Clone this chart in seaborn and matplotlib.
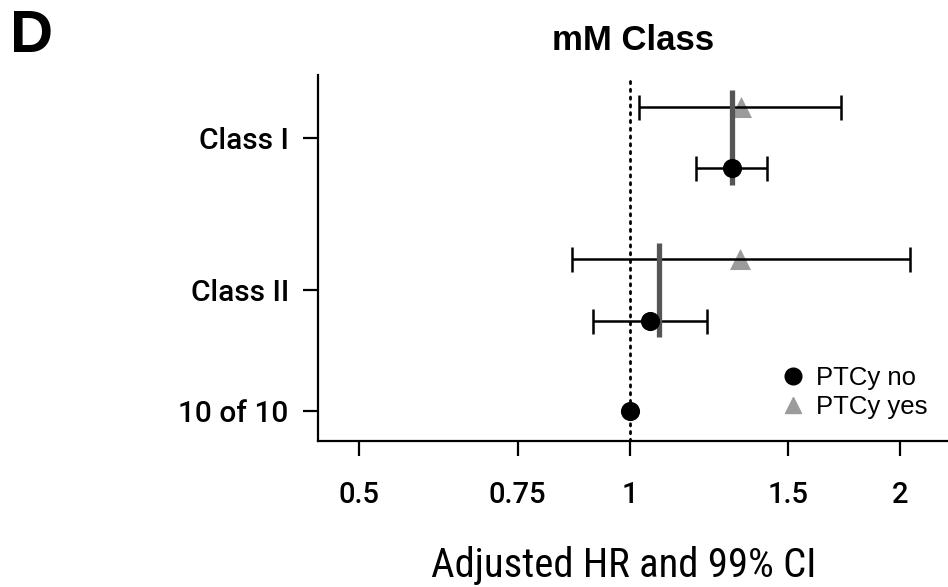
import numpy as np
import pandas as pd
import matplotlib
matplotlib.use('Agg')
import matplotlib.pyplot as plt
import seaborn as sns
from matplotlib import font_manager
from matplotlib.font_manager import FontProperties
from matplotlib.ticker import FixedLocator, FixedFormatter, NullLocator
from matplotlib.lines import Line2D

sns.set_theme(style='ticks')
plt.rcParams['font.family'] = ['Liberation Sans', 'DejaVu Sans']
plt.rcParams.update({'text.color': 'black', 'axes.labelcolor': 'black',
                     'xtick.color': 'black', 'ytick.color': 'black'})

# values (HR on log axis)
classes = ['Class I', 'Class II']
hr_no = [1.30, 1.052]
lo_no = [1.184, 0.909]
hi_no = [1.423, 1.219]
hr_yes = [1.33, 1.325]
lo_yes = [1.023, 0.862]
hi_yes = [1.72, 2.05]
hr_overall = [1.298, 1.077]
ref_label = '10 of 10'
ref_hr = 1.0

x_ticks = [0.5, 0.75, 1, 1.5, 2]
x_tick_labels = ['0.5', '0.75', '1', '1.5', '2']

# layout of the rows
class_pos = {'Class I': 3.26, 'Class II': 2.0, ref_label: 1.0}
row_off = 0.255


def as_weight(w):
    if isinstance(w, int):
        return w
    return {'normal': 400, 'regular': 400, 'medium': 500, 'bold': 700}.get(w, 0)


def find_condensed():
    # a narrow sans for the x label, if one is installed
    cands = []
    for f in font_manager.fontManager.ttflist:
        narrow = ('Narrow' in f.name or 'Condensed' in f.name or
                  f.stretch in ('condensed', 'semi-condensed'))
        if narrow and f.style == 'normal' and as_weight(f.weight) == 400:
            rank = 0 if 'Liberation' in f.name else 1 if 'Roboto' in f.name else 2 if 'Noto Sans' in f.name else 3
            if f.stretch == 'semi-condensed':
                rank += 5
            cands.append((rank, f.fname))
    if cands:
        return sorted(cands)[0][1]
    return None


def find_medium():
    # medium weight sans for tick labels, bold as a fallback
    for fam in ['Roboto', 'Inter', 'Open Sans', 'Noto Sans', 'Lato']:
        for f in font_manager.fontManager.ttflist:
            if (f.name == fam and f.style == 'normal' and f.stretch == 'normal'
                    and as_weight(f.weight) in (500, 600)):
                return f.fname
    return None


rows = []
for i, c in enumerate(classes):
    rows.append(dict(group=c, ptcy='yes', hr=hr_yes[i], lo=lo_yes[i], hi=hi_yes[i],
                     ypos=class_pos[c] + row_off))
    rows.append(dict(group=c, ptcy='no', hr=hr_no[i], lo=lo_no[i], hi=hi_no[i],
                     ypos=class_pos[c] - row_off))
rows.append(dict(group=ref_label, ptcy='no', hr=ref_hr, lo=np.nan, hi=np.nan,
                 ypos=class_pos[ref_label]))
df = pd.DataFrame(rows)

fig = plt.figure(figsize=(9.48, 5.87), dpi=100)
ax = fig.add_axes([318 / 948, 1 - 441 / 587, 1 - 318 / 948, (441 - 75) / 587])

ax.axvline(ref_hr, ymin=0, ymax=0.99, color='black', lw=2.0, ls=(0, (0.8, 2.0)),
           dash_capstyle='round', zorder=1)

# triangles first so the lines run over them
sns.scatterplot(data=df[df.ptcy == 'yes'], x='hr', y='ypos', marker='^', color='#9b9b9b',
                s=230, linewidth=0, ax=ax, legend=False, zorder=2)

ci = df.dropna(subset=['lo'])
ax.errorbar(ci['hr'], ci['ypos'], xerr=[ci['hr'] - ci['lo'], ci['hi'] - ci['hr']],
            fmt='none', ecolor='black', elinewidth=1.8, capsize=9, capthick=1.8, zorder=3)

for c, v in zip(classes, hr_overall):
    ax.plot([v, v], [class_pos[c] - 0.39, class_pos[c] + 0.39], color='#555555',
            lw=3.8, solid_capstyle='butt', zorder=4)

sns.scatterplot(data=df[df.ptcy == 'no'], x='hr', y='ypos', marker='o', color='black',
                s=190, linewidth=0, ax=ax, legend=False, zorder=5)

ax.set_xscale('log')
ax.set_xlim(0.4498, 2.26)
ax.set_ylim(0.752, 3.777)
ax.xaxis.set_major_locator(FixedLocator(x_ticks))
ax.xaxis.set_major_formatter(FixedFormatter(x_tick_labels))
ax.xaxis.set_minor_locator(NullLocator())
ax.set_yticks([class_pos[c] for c in classes + [ref_label]])
ax.set_yticklabels(classes + [ref_label])

for s in ['top', 'right']:
    ax.spines[s].set_visible(False)
for s in ['left', 'bottom']:
    ax.spines[s].set_linewidth(1.6)
    ax.spines[s].set_color('black')
ax.tick_params(axis='both', length=11, width=1.6, color='black', direction='out')
ax.tick_params(axis='x', pad=18)
ax.tick_params(axis='y', pad=10)

med = find_medium()
for t in ax.get_xticklabels():
    if med:
        t.set_fontproperties(FontProperties(fname=med, size=21))
    else:
        t.set_fontsize(20)
        t.set_fontweight('bold')
for t in ax.get_yticklabels():
    if med:
        t.set_fontproperties(FontProperties(fname=med, size=21.5))
    else:
        t.set_fontsize(20.5)
        t.set_fontweight('bold')
ax.set_ylabel('')

ax.set_title('mM Class', fontsize=25, fontweight='bold', pad=18)

cond = find_condensed()
xfont = FontProperties(fname=cond) if cond else FontProperties(family='Liberation Sans')
xfont.set_size(29.3 if cond else 25)
ax.set_xlabel('Adjusted HR and 99% CI', fontproperties=xfont)
ax.xaxis.label.set_va('baseline')
ax.xaxis.set_label_coords(0.486, (441 - 577) / 366)

fig.text(10 / 948, 1 - 52 / 587, 'D', fontsize=43, fontweight='bold', va='baseline')

handles = [Line2D([], [], marker='o', color='black', ls='none', markersize=12),
           Line2D([], [], marker='^', color='#9b9b9b', ls='none', markersize=12)]
ax.legend(handles, ['PTCy no', 'PTCy yes'], loc='center left',
          bbox_to_anchor=(0.735, 0.1325), frameon=False, fontsize=18.5,
          handlelength=0.9, handletextpad=0.45, borderpad=0, borderaxespad=0,
          labelspacing=0.22)

fig.savefig('out.png', dpi=100)
